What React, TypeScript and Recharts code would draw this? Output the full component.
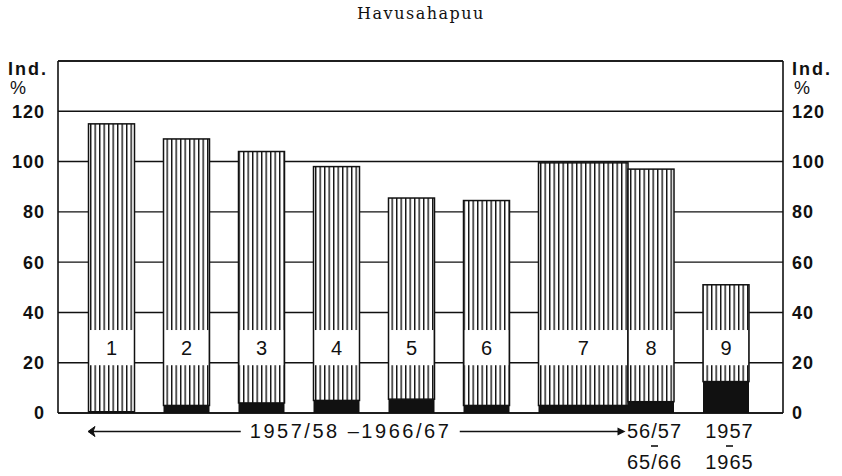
import React from "react";
import { BarChart, Bar, XAxis, YAxis, CartesianGrid, ReferenceLine } from "recharts";

// index values per period
const periods = ["1", "2", "3", "4", "5", "6", "7", "8", "9"];
const indexTotal = [115, 109, 104, 98, 85.5, 84.5, 99.5, 97, 51];
const indexBlack = [0.5, 3, 4, 5, 5.5, 3, 3, 4.5, 12.5];
const yTicks = [0, 20, 40, 60, 80, 100, 120];
const yMax = 140;
const spanText = "1957/58 –1966/67";
const period8Text = ["56/57", "65/66"];
const period9Text = ["1957", "1965"];
const numberBand = [19, 33]; // value range of the white box holding the bar number

const W = 842;
const H = 476;
const MARGIN = { top: 61, right: 10, bottom: 8, left: 8 };
const LEFT_AXIS_W = 50;
const RIGHT_AXIS_W = 49;
const PAD = { left: 15.5, right: 34.5 };
const BAR_W = 46;
const PLOT_W = W - MARGIN.left - MARGIN.right - LEFT_AXIS_W - RIGHT_AXIS_W;
const BAND = (PLOT_W - PAD.left - PAD.right) / periods.length;
const SLACK = BAND - BAR_W;
const INK = "#111";
const SANS = "'Liberation Sans', Arial, sans-serif";

const chartData = periods.map((p, i) => ({
  period: p,
  black: indexBlack[i],
  hatch: indexTotal[i] - indexBlack[i],
}));

// bar 7 runs up to bar 8, bars 8 and 9 sit at the right of their slot
function placeBar(x: number, width: number, period: string) {
  if (period === "7") return { x, w: BAND + SLACK / 2 };
  if (period === "8" || period === "9") return { x: x + SLACK / 2, w: width };
  return { x, w: width };
}

const BlackShape = (props: any) => {
  const { x, y, width, height, payload } = props;
  if (!height) return null;
  const g = placeBar(x, width, payload.period);
  return <rect x={g.x} y={y} width={g.w} height={height} fill={INK} />;
};

const HatchShape = (props: any) => {
  const { x, y, width, height, payload } = props;
  const g = placeBar(x, width, payload.period);
  const unit = height / payload.hatch;
  const base = y + height;
  const boxTop = base - (numberBand[1] - payload.black) * unit;
  const boxBottom = base - (numberBand[0] - payload.black) * unit;
  return (
    <g>
      <rect x={g.x} y={y} width={g.w} height={height} fill="url(#vhatch)" />
      <rect x={g.x + 1} y={boxTop} width={g.w - 2} height={boxBottom - boxTop} fill="#fff" />
      <rect x={g.x} y={y} width={g.w} height={height} fill="none" stroke={INK} strokeWidth={1.5} />
      <text
        x={g.x + g.w / 2}
        y={(boxTop + boxBottom) / 2 + 7}
        textAnchor="middle"
        fontFamily={SANS}
        fontSize={20}
        fill={INK}
      >
        {payload.period}
      </text>
    </g>
  );
};

const PeriodTick = (props: any) => {
  const { x, y, payload } = props;
  const label = { fontFamily: SANS, fontSize: 20, fill: INK, letterSpacing: 1 };
  if (payload.value === "1") {
    const left = x - BAR_W / 2;
    const right = x + 6 * BAND - BAR_W / 2 + BAND + SLACK / 2;
    const mid = (left + right) / 2 - 8;
    const textW = 200;
    const ay = y + 18.5;
    return (
      <g>
        <line x1={left + 5} y1={ay} x2={mid - textW / 2 - 9} y2={ay} stroke={INK} strokeWidth={1.6} />
        <polygon points={`${left},${ay} ${left + 7},${ay - 5} ${left + 5},${ay} ${left + 7},${ay + 5}`} fill={INK} stroke={INK} strokeWidth={1} />
        <text x={mid} y={y + 24.5} textAnchor="middle" textLength={textW} lengthAdjust="spacing" {...label}>
          {spanText}
        </text>
        <line x1={mid + textW / 2 + 10} y1={ay} x2={right - 8} y2={ay} stroke={INK} strokeWidth={1.6} />
        <polygon points={`${right - 2},${ay} ${right - 10},${ay - 4} ${right - 10},${ay + 4}`} fill={INK} />
      </g>
    );
  }
  if (payload.value === "8" || payload.value === "9") {
    const lines = payload.value === "8" ? period8Text : period9Text;
    const cx = x + SLACK / 2 + 4;
    return (
      <g>
        <text x={cx} y={y + 24.5} textAnchor="middle" {...label}>{lines[0]}</text>
        <line x1={cx - 3.5} y1={y + 33} x2={cx + 3.5} y2={y + 33} stroke={INK} strokeWidth={1.6} />
        <text x={cx} y={y + 55.5} textAnchor="middle" {...label}>{lines[1]}</text>
      </g>
    );
  }
  return <g />;
};

const AxisUnit = (props: any) => {
  const { viewBox, side } = props;
  const tx = side === "left" ? viewBox.x : viewBox.x + 9;
  return (
    <g>
      <text x={tx} y={viewBox.y + 13.5} fontFamily={SANS} fontSize={18} fontWeight="bold" letterSpacing={2} fill={INK}>
        Ind.
      </text>
      <text x={tx + 2} y={viewBox.y + 33} fontFamily={SANS} fontSize={18} fill={INK}>
        %
      </text>
    </g>
  );
};

const tickStyle = { fill: INK, fontSize: 18, fontFamily: SANS, fontWeight: "bold", letterSpacing: 1 };

export default function App() {
  return (
    <div style={{ position: "absolute", left: 0, top: 0, width: W, height: H, background: "#fff" }}>
      <div
        style={{
          position: "absolute",
          top: 4,
          left: 0,
          width: W,
          textAlign: "center",
          fontFamily: "'DejaVu Serif', serif",
          fontSize: 16,
          letterSpacing: 1.5,
          color: INK,
        }}
      >
        Havusahapuu
      </div>
      <BarChart width={W} height={H} data={chartData} margin={MARGIN} barSize={BAR_W}>
        <defs>
          <pattern id="vhatch" patternUnits="userSpaceOnUse" width={4.5} height={10}>
            <rect width={4.5} height={10} fill="#fff" />
            <rect x={0} width={1.4} height={10} fill={INK} />
          </pattern>
        </defs>
        <CartesianGrid vertical={false} stroke={INK} strokeWidth={1.4} yAxisId="l" />
        <XAxis
          dataKey="period"
          padding={PAD}
          interval={0}
          height={55}
          tickLine={false}
          tickSize={0}
          tickMargin={0}
          axisLine={{ stroke: INK, strokeWidth: 1.6 }}
          tick={<PeriodTick />}
        />
        <YAxis
          yAxisId="l"
          orientation="left"
          width={LEFT_AXIS_W}
          domain={[0, yMax]}
          ticks={yTicks}
          tickLine={false}
          tickSize={0}
          tickMargin={13}
          axisLine={{ stroke: INK, strokeWidth: 1.6 }}
          tick={tickStyle}
          label={<AxisUnit side="left" />}
        />
        <YAxis
          yAxisId="r"
          orientation="right"
          width={RIGHT_AXIS_W}
          domain={[0, yMax]}
          allowDataOverflow
          ticks={yTicks}
          tickLine={false}
          tickSize={0}
          tickMargin={9}
          axisLine={{ stroke: INK, strokeWidth: 1.6 }}
          tick={tickStyle}
          label={<AxisUnit side="right" />}
        />
        <ReferenceLine yAxisId="l" y={yMax} stroke={INK} strokeWidth={1.6} />
        <Bar dataKey="black" stackId="a" yAxisId="l" shape={(p: any) => <BlackShape {...p} />} isAnimationActive={false} />
        <Bar dataKey="hatch" stackId="a" yAxisId="l" shape={(p: any) => <HatchShape {...p} />} isAnimationActive={false} />
      </BarChart>
    </div>
  );
}
